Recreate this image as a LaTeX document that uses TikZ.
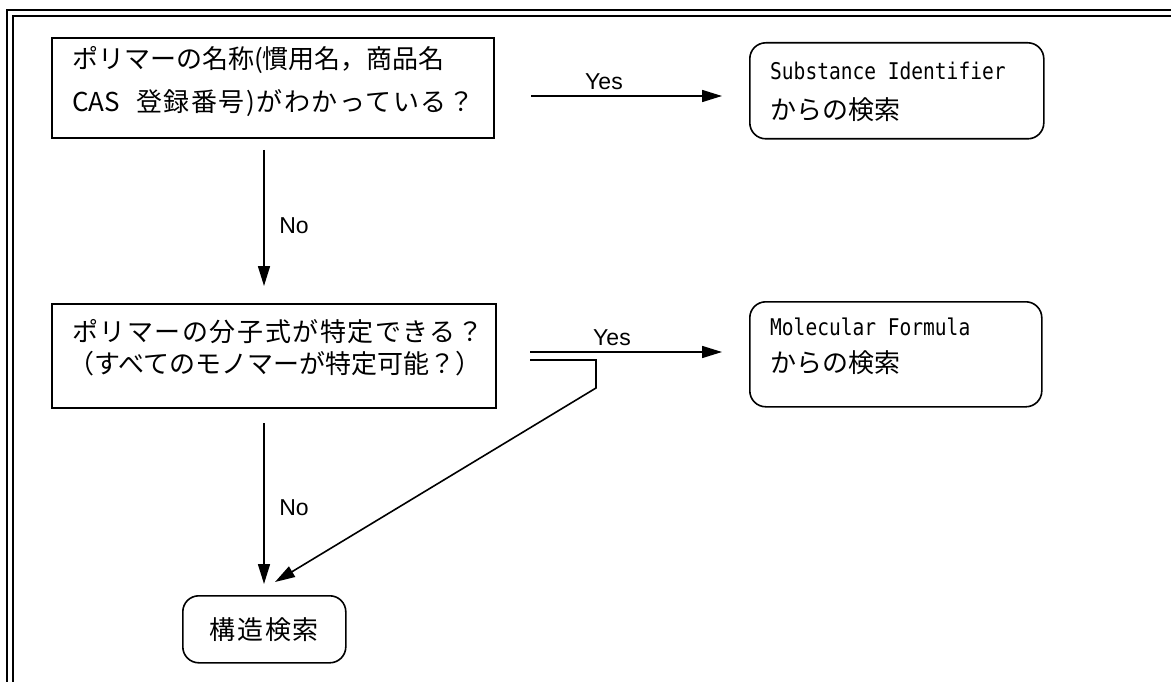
\documentclass[tikz,border=0pt]{standalone}
\usepackage{fontspec}
\setmainfont{Noto Sans CJK JP}
\newfontfamily\jspaced[LetterSpace=6]{Noto Sans CJK JP}
\newfontfamily\yesfont{Liberation Sans}
\newfontfamily\latmono[FakeStretch=0.85]{DejaVu Sans Mono}
\usetikzlibrary{arrows.meta}
\begin{document}
\begin{tikzpicture}[x=1pt,y=-1pt,
  frameline/.style={line width=2pt},
  qbox/.style={draw,line width=1.6pt,inner sep=0pt},
  rbox/.style={draw,line width=1.6pt,rounded corners=16pt,inner sep=0pt},
  jtext/.style={anchor=west,inner sep=0pt,font=\fontsize{26}{29}\selectfont},
  mtext/.style={anchor=west,inner sep=0pt,font=\latmono\fontsize{23}{26}\selectfont},
  lbl/.style={inner sep=0pt,font=\yesfont\fontsize{23}{26}\selectfont},
  conn/.style={line width=1.6pt},
  arr/.style={conn,-{Triangle[length=20pt,width=12pt]}}]
\useasboundingbox (0,0) rectangle (1171,682);
\fill[white] (0,0) rectangle (1171,682);
% frame
\draw[frameline] (7,682) -- (7,10) -- (1171,10);
\draw[frameline] (13,682) -- (13,16) -- (1171,16);
% boxes
\node[qbox,minimum width=442pt,minimum height=100pt,anchor=north west] (q1) at (51,37) {};
\node[qbox,minimum width=444pt,minimum height=104pt,anchor=north west] (q2) at (51,303) {};
\node[rbox,minimum width=294pt,minimum height=96pt,anchor=north west] (r1) at (749,42) {};
\node[rbox,minimum width=292pt,minimum height=105pt,anchor=north west] (r2) at (749,301) {};
\node[rbox,minimum width=163pt,minimum height=67pt,anchor=north west] (r3) at (182,595) {};
% texts
\node[jtext] (q1a) at (72,60) {ポリマーの名称(慣用名，商品名};
\node[jtext] (q1b) at (72,103) {CAS\hspace{16pt}{\jspaced 登録番号)がわかっている？}};
\node[jtext] (q2a) at (72,332) {\jspaced ポリマーの分子式が特定できる？};
\node[jtext] (q2b) at (68,364) {（すべてのモノマーが特定可能？）};
\node[mtext] (r1a) at (770,71) {Substance Identifier};
\node[jtext] (r1b) at (770,110) {からの検索};
\node[mtext] (r2a) at (770,327) {Molecular Formula};
\node[jtext] (r2b) at (770,363) {からの検索};
\node[jtext,anchor=center] (r3a) at (r3.center) {\jspaced 構造検索};
% connector end points
\coordinate (y1s) at (531,96);
\coordinate (y1e) at (722,96);
\coordinate (n1s) at (264,150);
\coordinate (n1e) at (264,286);
\coordinate (y2s) at (530,352);
\coordinate (y2e) at (722,352);
\coordinate (l2s) at (530,360);
\coordinate (l2a) at (596,360);
\coordinate (l2b) at (596,388);
\coordinate (l2e) at (275,582);
\coordinate (n2s) at (264,423);
\coordinate (n2e) at (264,584);
% connectors
\draw[arr] (y1s) -- (y1e);
\draw[arr] (n1s) -- (n1e);
\draw[arr] (y2s) -- (y2e);
\draw[arr] (l2s) -- (l2a) -- (l2b) -- (l2e);
\draw[arr] (n2s) -- (n2e);
% labels
\node[lbl] (ly1) at (604,82) {Yes};
\node[lbl] (ln1) at (294,226) {No};
\node[lbl] (ly2) at (612,338) {Yes};
\node[lbl] (ln2) at (294,508) {No};
\end{tikzpicture}
\end{document}
